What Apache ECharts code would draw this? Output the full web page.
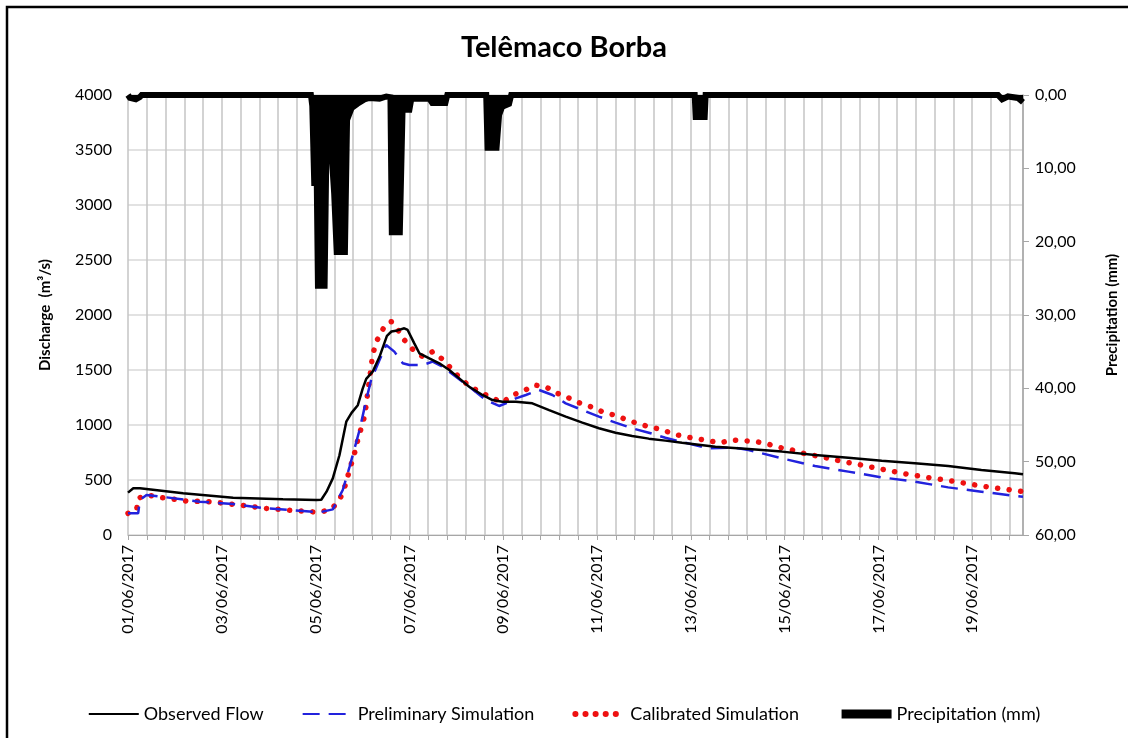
<!DOCTYPE html>
<html>
<head>
<meta charset="utf-8">
<script src="https://cdn.jsdelivr.net/npm/echarts@6/dist/echarts.min.js"></script>
<style>
  html, body { margin: 0; padding: 0; background: #fff; }
  #main { width: 1128px; height: 738px; }
</style>
</head>
<body>
<div id="main"></div>
<script>
// time in hours from 01/06/2017 00:00
var hourMax = 458;
var gridStep = 9.6;   // vertical gridlines
var labelStep = 48;   // a date label every 2 days

// [hour, discharge m3/s]
var observedFlow = [
  [0, 385], [2.7, 425], [6.1, 425], [28.2, 379], [53.8, 339], [79.3, 324], [96.4, 318],
  [98.9, 320], [101.6, 394], [104.8, 515], [108.2, 725], [111.7, 1030], [114.4, 1110],
  [117.6, 1180], [120.1, 1330], [121.9, 1420], [125.2, 1485], [128.7, 1620], [132.5, 1810],
  [134.8, 1850], [137.9, 1860], [141.4, 1879], [143.1, 1864], [146.5, 1742], [149.1, 1652],
  [154.2, 1606], [159.3, 1561], [164.4, 1500], [169.5, 1424], [174.6, 1348], [181.4, 1273],
  [186.5, 1227], [191.6, 1212], [198.5, 1212], [206.9, 1197], [215.5, 1136], [224, 1076],
  [232.5, 1021], [241, 970], [249.5, 930], [258, 900], [266.5, 876], [275, 858], [283.5, 838],
  [300.6, 803], [317.6, 782], [334.6, 758], [351.6, 727], [368.6, 703], [385.7, 676],
  [402.7, 652], [419.7, 627], [436.7, 591], [453.8, 561], [458, 552]
];

var preliminarySim = [
  [0, 197], [5.2, 197], [6.1, 318], [9.5, 364], [19.8, 342], [36.8, 303], [53.8, 282],
  [70.8, 242], [87.8, 221], [98, 206], [104.8, 233], [109.9, 409], [113.4, 621], [118.5, 955],
  [121.9, 1227], [124.4, 1409], [128.7, 1591], [132.1, 1727], [136.3, 1667], [140.6, 1561],
  [144, 1545], [150.8, 1545], [155.9, 1576], [161, 1530], [167.8, 1439], [174.6, 1348],
  [183.2, 1227], [189.9, 1173], [193.4, 1197], [198.5, 1242], [203.6, 1273], [210.4, 1318],
  [217.2, 1273], [224, 1197], [232.5, 1136], [241, 1076], [249.5, 1021], [258, 970],
  [266.5, 930], [275, 884], [283.5, 845], [297.2, 788], [310.8, 794], [317.6, 773],
  [334.6, 697], [351.6, 627], [368.6, 576], [385.7, 524], [402.7, 485], [419.7, 433],
  [436.7, 394], [453.8, 355], [458, 348]
];

var calibratedSim = [
  [0, 197], [4.4, 227], [5.2, 333], [9.5, 364], [16.3, 342], [29.9, 309], [41.8, 303],
  [53.8, 279], [70.8, 242], [85.8, 221], [98, 206], [104, 233], [108.2, 318], [110.7, 424],
  [112.4, 530], [114.1, 636], [115.9, 742], [117.6, 864], [119.3, 970], [121, 1076],
  [121.9, 1182], [122.7, 1303], [123.6, 1409], [124.4, 1530], [125.2, 1636], [126.9, 1748],
  [129.5, 1848], [132.9, 1930], [134.8, 1939], [137.9, 1870], [141.4, 1773], [145.7, 1688],
  [150.8, 1621], [155.9, 1667], [161, 1597], [165.3, 1515], [169.5, 1433], [174.6, 1355],
  [179.7, 1303], [185.7, 1252], [191.6, 1203], [196.7, 1273], [201.8, 1303], [207.8, 1364],
  [213.8, 1348], [218.9, 1294], [224.8, 1252], [230.8, 1203], [236.8, 1167], [242.7, 1121],
  [248.6, 1091], [254.6, 1052], [260.6, 1015], [266.5, 985], [272.5, 961], [278.4, 924],
  [284.4, 894], [290.4, 879], [296.3, 858], [303.2, 839], [309.2, 864], [315.1, 858],
  [321.9, 848], [327.9, 824], [333.8, 794], [339.8, 773], [345.7, 742], [352.5, 718],
  [358.5, 697], [364.4, 673], [370.4, 652], [377.2, 630], [383.1, 606], [389.9, 585],
  [395.9, 561], [401.9, 545], [408.7, 524], [414.6, 509], [420.6, 494], [426.6, 476],
  [433.4, 455], [439.3, 439], [445.3, 424], [452.1, 409], [458, 394]
];

// [hour, mm]
var precipitation = [
  [0, 0], [1, 0.4], [4, 0.6], [6, 0.3], [7, 0], [93.6, 0], [94.3, 1.5], [95.3, 12], [96.6, 12],
  [97.2, 26], [100.6, 26], [101.6, 6], [103.7, 6], [104.5, 9.3], [105.5, 13.4], [106.8, 21.4],
  [111, 21.4], [112.1, 3.4], [114.4, 1.8], [117.4, 1.2], [121, 0.6], [123.6, 0.4],
  [128.7, 0.5], [132.2, 0.2], [134.3, 0.3], [135, 18.7], [139.1, 18.7], [140.5, 2], [144, 2],
  [145, 0.5], [154.2, 0.5], [155.7, 1.1], [162.4, 1.1], [163.4, 0], [183.3, 0], [184, 7.2],
  [188.6, 7.2], [189.9, 2.7], [191.5, 1.6], [195, 1.2], [196.1, 0], [290, 0], [290.5, 3],
  [295.1, 3], [295.6, 0], [445.2, 0], [447.3, 0.6], [450.3, 0.2], [455.4, 0.4], [458, 1]
];

var seriesNames = ['Observed Flow', 'Preliminary Simulation', 'Calibrated Simulation', 'Precipitation (mm)'];

function pad(n) { return n < 10 ? '0' + n : '' + n; }

var font = 'Lato, "Open Sans", sans-serif';
var hidden = 'rgba(0,0,0,0)'; // keeps the legend to a plain line, no marker
var chart = echarts.init(document.getElementById('main'));

chart.setOption({
  backgroundColor: '#fff',
  animation: false,
  textStyle: { fontFamily: font },
  title: {
    text: 'Telêmaco Borba',
    left: 'center',
    top: 28,
    textStyle: { fontSize: 29, fontWeight: 'bold', color: '#000', fontFamily: font }
  },
  graphic: [{
    type: 'rect',
    shape: { x: 7, y: 7, width: 1140, height: 760 },
    style: { fill: 'none', stroke: '#000', lineWidth: 2.5 },
    silent: true
  }],
  grid: { left: 128, right: 103, top: 95, bottom: 203 },
  legend: {
    data: [
      { name: seriesNames[0] },
      { name: seriesNames[1] },
      { name: seriesNames[2], lineStyle: { width: 6, type: [0.1, 10], cap: 'round' } },
      { name: seriesNames[3], lineStyle: { width: 9 } }
    ],
    left: 'center',
    top: 700,
    itemWidth: 50,
    itemHeight: 12,
    itemGap: 38,
    textStyle: { fontSize: 18, color: '#000', fontFamily: font }
  },
  xAxis: {
    type: 'value',
    min: 0,
    max: hourMax,
    interval: gridStep,
    axisLine: { show: true, lineStyle: { color: '#a6a6a6', width: 1 } },
    axisTick: { show: true, length: 5, lineStyle: { color: '#a6a6a6' } },
    splitLine: { show: true, lineStyle: { color: '#c4c4c4', width: 1.5 } },
    axisLabel: {
      rotate: 90,
      margin: 10,
      fontSize: 16,
      color: '#000',
      showMaxLabel: false,
      formatter: function (v) {
        var k = v / labelStep;
        if (Math.abs(k - Math.round(k)) > 1e-6) return '';
        var day = 1 + Math.round(v / 24);
        return pad(day) + '/06/2017';
      }
    }
  },
  yAxis: [{
    type: 'value',
    min: 0,
    max: 4000,
    interval: 500,
    name: 'Discharge  (m³/s)',
    nameLocation: 'middle',
    nameRotate: 90,
    nameGap: 75,
    nameTextStyle: { fontSize: 15, fontWeight: 'bold', color: '#000', fontFamily: font },
    axisLine: { show: false },
    axisTick: { show: false },
    axisLabel: { fontSize: 16, color: '#000', margin: 16, formatter: function (v) { return String(v); } },
    splitLine: { show: true, lineStyle: { color: '#d9d9d9', width: 1.5 } }
  }, {
    type: 'value',
    min: 0,
    max: 60,
    interval: 10,
    inverse: true,
    position: 'right',
    name: 'Precipitation (mm)',
    nameLocation: 'middle',
    nameRotate: 90,
    nameGap: 82,
    nameTextStyle: { fontSize: 15, fontWeight: 'bold', color: '#000', fontFamily: font },
    axisLine: { show: true, lineStyle: { color: '#a6a6a6', width: 1.5 } },
    axisTick: { show: true, length: 6, lineStyle: { color: '#a6a6a6' } },
    axisLabel: {
      fontSize: 16, color: '#000', margin: 12,
      formatter: function (v) { return v.toFixed(2).replace('.', ','); }
    },
    splitLine: { show: false }
  }],
  series: [{
    name: 'Precipitation (mm)',
    type: 'line',
    yAxisIndex: 1,
    data: precipitation,
    symbol: 'none',
    clip: false,
    lineStyle: { color: '#000', width: 6, join: 'miter' },
    areaStyle: { color: '#000', opacity: 1 },
    itemStyle: { color: hidden },
    z: 2
  }, {
    name: 'Calibrated Simulation',
    type: 'line',
    data: calibratedSim,
    symbol: 'none',
    lineStyle: { color: '#ee1111', width: 5.5, type: [0.1, 11.5], cap: 'round' },
    itemStyle: { color: hidden },
    z: 3
  }, {
    name: 'Preliminary Simulation',
    type: 'line',
    data: preliminarySim,
    symbol: 'none',
    lineStyle: { color: '#2222dd', width: 2.5, type: [17, 9] },
    itemStyle: { color: hidden },
    z: 4
  }, {
    name: 'Observed Flow',
    type: 'line',
    data: observedFlow,
    symbol: 'none',
    lineStyle: { color: '#000', width: 2.5 },
    itemStyle: { color: hidden },
    z: 5
  }]
});
</script>
</body>
</html>
